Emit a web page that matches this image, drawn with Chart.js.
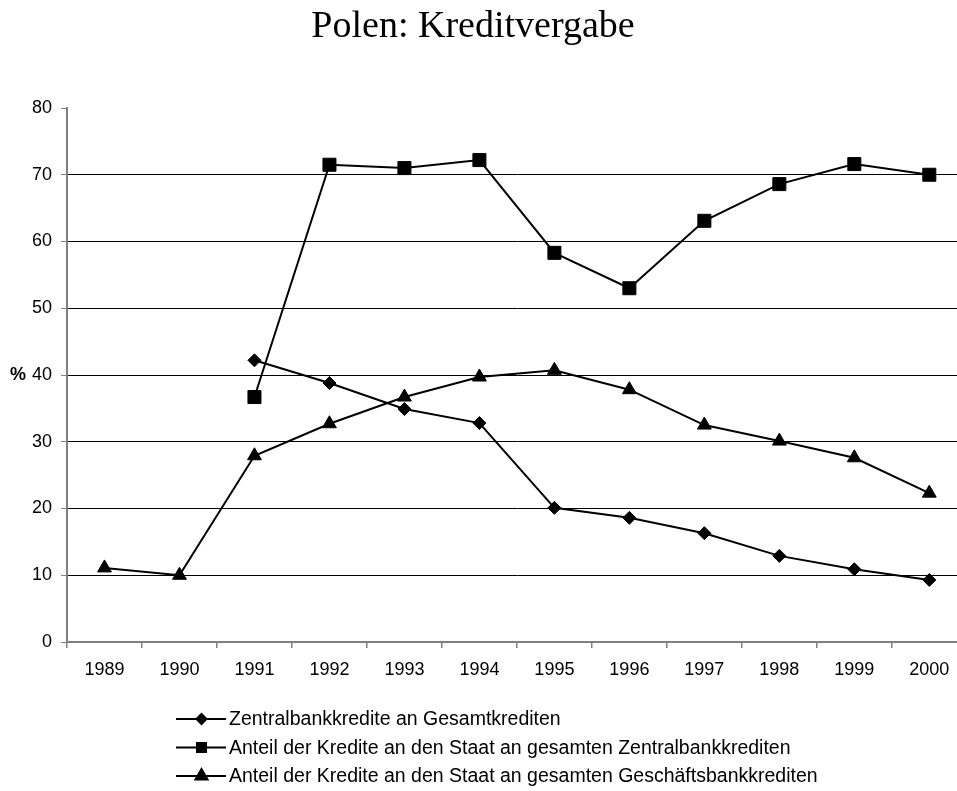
<!DOCTYPE html>
<html>
<head>
<meta charset="utf-8">
<script src="https://cdn.jsdelivr.net/npm/chart.js@4/dist/chart.umd.min.js"></script>
<style>
html,body{margin:0;padding:0;background:#fff;overflow:hidden;}
#wrap{position:absolute;left:0;top:0;width:977px;height:791px;}
</style>
</head>
<body>
<div id="wrap"><canvas id="c" width="977" height="791"></canvas></div>
<script>
const chartTitle = 'Polen: Kreditvergabe';
const yAxisLabel = '%';
const years = ['1989','1990','1991','1992','1993','1994','1995','1996','1997','1998','1999','2000'];
const seriesNames = [
  'Zentralbankkredite an Gesamtkrediten',
  'Anteil der Kredite an den Staat an gesamten Zentralbankkrediten',
  'Anteil der Kredite an den Staat an gesamten Geschäftsbankkrediten'
];
const zentralbank = [null, null, 42.2, 38.8, 34.9, 32.8, 20.1, 18.6, 16.3, 12.9, 10.9, 9.3];
const staatZentral = [null, null, 36.7, 71.5, 71.0, 72.2, 58.3, 53.0, 63.1, 68.6, 71.6, 70.0];
const staatGeschaeft = [11.1, 10.0, 27.9, 32.7, 36.7, 39.7, 40.7, 37.8, 32.5, 30.1, 27.6, 22.3];
const markerStyles = ['rectRot', 'rect', 'triangle'];
const markerRadius = [6.5, 9.2, 8];

const GRAY = '#808080';
const SANS = '"Liberation Sans", Arial, sans-serif';

const extras = {
  id: 'extras',
  afterDraw(chart) {
    const ctx = chart.ctx;
    ctx.save();
    // title
    ctx.fillStyle = '#000';
    ctx.font = '38px "Liberation Serif", "Times New Roman", serif';
    ctx.textAlign = 'center';
    ctx.textBaseline = 'alphabetic';
    ctx.fillText(chartTitle, 473, 37);
    // y label
    ctx.font = 'bold 18px ' + SANS;
    ctx.textAlign = 'left';
    ctx.textBaseline = 'middle';
    ctx.fillText(yAxisLabel, 10, 375);
    // legend
    const rows = [719, 747.5, 776];
    ctx.font = '19.5px ' + SANS;
    rows.forEach((y, i) => {
      ctx.strokeStyle = '#000';
      ctx.lineWidth = 2;
      ctx.beginPath();
      ctx.moveTo(176, y);
      ctx.lineTo(226, y);
      ctx.stroke();
      ctx.fillStyle = '#000';
      Chart.helpers.drawPoint(ctx, {pointStyle: markerStyles[i], radius: [5, 6.4, 7][i], rotation: 0, borderWidth: 1}, 201.5, y);
      ctx.fill();
      ctx.fillStyle = '#000';
      ctx.textBaseline = 'middle';
      ctx.fillText(seriesNames[i], 229, y + 1);
    });
    ctx.restore();
  }
};

const data = [zentralbank, staatZentral, staatGeschaeft];
new Chart(document.getElementById('c'), {
  type: 'line',
  data: {
    labels: years,
    datasets: data.map((d, i) => ({
      label: seriesNames[i],
      data: d,
      borderColor: '#000',
      backgroundColor: '#000',
      borderWidth: 2,
      pointStyle: markerStyles[i],
      pointRadius: markerRadius[i],
      pointHoverRadius: markerRadius[i],
      pointBackgroundColor: '#000',
      pointBorderColor: '#000',
      pointBorderWidth: 1,
      tension: 0,
      spanGaps: false,
      clip: false
    }))
  },
  options: {
    responsive: false,
    animation: false,
    events: [],
    layout: { padding: { left: 0, right: 4, top: 108, bottom: 0 } },
    plugins: { legend: { display: false }, title: { display: false }, tooltip: { enabled: false } },
    scales: {
      x: {
        type: 'category',
        offset: true,
        grid: { offset: true, drawOnChartArea: false, drawTicks: true, tickLength: 6, tickColor: GRAY, lineWidth: 1.5 },
        border: { color: GRAY, width: 2 },
        ticks: { color: '#000', font: { family: SANS, size: 18 }, padding: 11, maxRotation: 0, autoSkip: false },
        afterFit(s) { s.height = 149; }
      },
      y: {
        min: 0, max: 80,
        ticks: { stepSize: 10, color: '#000', font: { family: SANS, size: 18 }, padding: 9 },
        grid: {
          color: (c) => (c.tick && (c.tick.value === 0 || c.tick.value === 80)) ? 'rgba(0,0,0,0)' : '#000',
          lineWidth: 1,
          tickLength: 6,
          tickColor: GRAY
        },
        border: { color: GRAY, width: 2 },
        afterFit(s) { s.width = 67; }
      }
    }
  },
  plugins: [extras]
});
</script>
</body>
</html>
